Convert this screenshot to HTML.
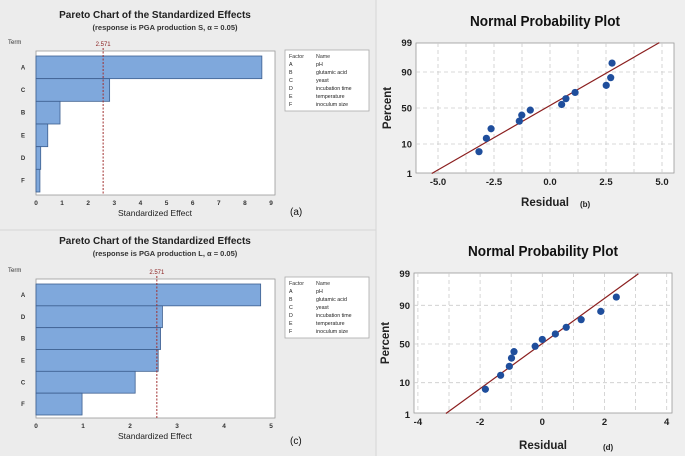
<!DOCTYPE html>
<html><head><meta charset="utf-8">
<style>
html,body{margin:0;padding:0;background:#ececec;}
svg{display:block;font-family:"Liberation Sans",sans-serif;}
</style></head>
<body>
<svg id="fig" width="685" height="456" viewBox="0 0 685 456">
<rect x="0" y="0" width="685" height="456" fill="#ececec"/>
<rect x="376" y="0" width="309" height="456" fill="#efefef"/>
<line x1="376" y1="0" x2="376" y2="456" stroke="#d6d6d6"/>
<line x1="0" y1="230" x2="376" y2="230" stroke="#d6d6d6"/>
<g id="root"></g>
</svg>
<script>
// ---- Pareto (a) data ----
const paretoATerms = ["A","C","B","E","D","F"];
const paretoAValues = [8.65, 2.82, 0.92, 0.45, 0.18, 0.15];
const paretoATicks = [0,1,2,3,4,5,6,7,8,9];
// ---- Pareto (c) data ----
const paretoCTerms = ["A","D","B","E","C","F"];
const paretoCValues = [4.78, 2.69, 2.65, 2.60, 2.11, 0.98];
const paretoCTicks = [0,1,2,3,4,5];
const criticalValue = 2.571;
// ---- Normal probability (b) data ----
const npbResiduals = [-3.17,-2.84,-2.63,-1.37,-1.26,-0.88,0.52,0.71,1.12,2.51,2.71,2.77];
const npbPercents = [6,14,23,32,40,47,55,63,71,79,86,94.5];
const npbLineRes = [-5.28, 4.88];
const npbLinePct = [0.99, 99.0];
const npbXTicks = [-5.0,-2.5,0.0,2.5,5.0];
const npbXTickLabels = ["-5.0","-2.5","0.0","2.5","5.0"];
// ---- Normal probability (d) data ----
const npdResiduals = [-1.83,-1.34,-1.06,-0.99,-0.91,-0.23,0.0,0.42,0.77,1.25,1.88,2.38];
const npdPercents = [6.7,15,23,32,40,47,56,63,71,79,86,94];
const npdLineRes = [-3.10, 3.09];
const npdLinePct = [1.07, 99.0];
const npdXTicks = [-4,-2,0,2,4];
const npdXTickLabels = ["-4","-2","0","2","4"];
const pctTicks = [1,10,50,90,99];
const factorLetters = ["A","B","C","D","E","F"];
const factorNames = ["pH","glutamic acid","yeast","incubation time","temperature","inoculum size"];

const NS="http://www.w3.org/2000/svg";
const root=document.getElementById('root');
function mk(tag,attrs,parent,text){const e=document.createElementNS(NS,tag);for(const k in attrs)e.setAttribute(k,attrs[k]);if(text!==undefined)e.textContent=text;(parent||root).appendChild(e);return e;}

function invNorm(p){
 const a=[-39.69683028665376,220.9460984245205,-275.9285104469687,138.3577518672690,-30.66479806614716,2.506628277459239];
 const b=[-54.47609879822406,161.5858368580409,-155.6989798598866,66.80131188771972,-13.28068155288572];
 const c=[-0.007784894002430293,-0.3223964580411365,-2.400758277161838,-2.549732539343734,4.374664141464968,2.938163982698783];
 const d=[0.007784695709041462,0.3224671290700398,2.445134137142996,3.754408661907416];
 const pl=0.02425;let q,r;
 if(p<pl){q=Math.sqrt(-2*Math.log(p));return (((((c[0]*q+c[1])*q+c[2])*q+c[3])*q+c[4])*q+c[5])/((((d[0]*q+d[1])*q+d[2])*q+d[3])*q+1);}
 if(p>1-pl){q=Math.sqrt(-2*Math.log(1-p));return -(((((c[0]*q+c[1])*q+c[2])*q+c[3])*q+c[4])*q+c[5])/((((d[0]*q+d[1])*q+d[2])*q+d[3])*q+1);}
 q=p-0.5;r=q*q;return (((((a[0]*r+a[1])*r+a[2])*r+a[3])*r+a[4])*r+a[5])*q/(((((b[0]*r+b[1])*r+b[2])*r+b[3])*r+b[4])*r+1);
}

function pareto(cfg){
 const g=mk('g',{});
 
 
 const {x0,x1,y0,y1,max,terms,values,ticks}=cfg;
 const xs=v=>x0+(v/max)*(x1-x0-4);
 const t=mk('text',{x:155,y:cfg.titleY,'text-anchor':'middle','font-size':10,'font-weight':'bold',fill:'#222'},g,'Pareto Chart of the Standardized Effects');
 
 const st=mk('text',{x:165,y:cfg.titleY+12,'text-anchor':'middle','font-size':7.5,'font-weight':'bold',fill:'#333'},g,cfg.subtitle);
 
 const tm=mk('text',{x:8,y:y0-7,'font-size':6,fill:'#333'},g,'Term');
 
 const pa=mk('rect',{x:x0,y:y0,width:x1-x0,height:y1-y0,fill:'#fff',stroke:'#999','stroke-width':0.8},g);
 
 const n=terms.length;const top=y0+5,bot=y1-3;const bh=(bot-top)/n;
 terms.forEach((tt,i)=>{
  const r=mk('rect',{x:x0,y:top+i*bh,width:xs(values[i])-x0,height:bh,fill:'#7fa8dc',stroke:'#3d5f8f','stroke-width':0.8},g);
  
  const l=mk('text',{x:x0-13,y:top+i*bh+bh/2+2,'text-anchor':'middle','font-size':6,'font-weight':'bold',fill:'#333'},g,tt);
  
 });
 ticks.forEach(v=>{
  const l=mk('text',{x:xs(v),y:y1+10,'text-anchor':'middle','font-size':6.5,'font-weight':'bold',fill:'#333'},g,String(v));
  
 });
 const cx=xs(criticalValue);
 const cl=mk('line',{x1:cx,y1:y0-3,x2:cx,y2:y1,stroke:'#a03030','stroke-width':1,'stroke-dasharray':'2,1.5'},g);
 
 const ct=mk('text',{x:cx,y:y0-5,'text-anchor':'middle','font-size':6,fill:'#8a2020'},g,String(criticalValue));
 
 const xt=mk('text',{x:155,y:y1+21,'text-anchor':'middle','font-size':8.5,fill:'#222'},g,'Standardized Effect');
 
 const pl=mk('text',{x:290,y:cfg.labelY,'font-size':10,fill:'#111'},g,cfg.panel);
 
 const lg=mk('g',{},g);
 
 mk('rect',{x:285,y:cfg.legY,width:84,height:61,fill:'#fff',stroke:'#aaa','stroke-width':0.8},lg);
 mk('text',{x:289,y:cfg.legY+8,'font-size':5.3,fill:'#333'},lg,'Factor');
 mk('text',{x:316,y:cfg.legY+8,'font-size':5.3,fill:'#333'},lg,'Name');
 factorLetters.forEach((f,i)=>{
  const e=mk('text',{x:289,y:cfg.legY+16+i*8,'font-size':5.3,fill:'#222'},lg,f);
  
  mk('text',{x:316,y:cfg.legY+16+i*8,'font-size':5.3,fill:'#222'},lg,factorNames[i]);
 });
}

function normplot(cfg){
 const g=mk('g',{});
 
 
 const {x0,x1,y0,y1,xZero,pxPerUnit,yMid,pxPerZ}=cfg;
 const xs=v=>xZero+v*pxPerUnit;
 const ys=p=>yMid-invNorm(p/100)*pxPerZ;
 const t=mk('text',{x:(x0+x1)/2,y:cfg.titleY,'text-anchor':'middle','font-size':15,'font-weight':'bold',fill:'#111',textLength:150,lengthAdjust:'spacingAndGlyphs'},g,'Normal Probability Plot');
 
 const pa=mk('rect',{x:x0,y:y0,width:x1-x0,height:y1-y0,fill:'#fff',stroke:'#999','stroke-width':0.8},g);
 
 for(let v=cfg.gridStart;v<=cfg.gridEnd+1e-9;v+=cfg.gridStep){
  const gx=xs(v);if(gx<=x0+1||gx>=x1-1)continue;
  const gl=mk('line',{x1:gx,y1:y0,x2:gx,y2:y1,stroke:'#ccc','stroke-width':0.8,'stroke-dasharray':'4,3'},g);
  
 }
 pctTicks.forEach(p=>{
  const yy=ys(p);
  if(p!==1&&p!==99){const gl=mk('line',{x1:x0,y1:yy,x2:x1,y2:yy,stroke:'#ccc','stroke-width':0.8,'stroke-dasharray':'4,3'},g);
   }
  const l=mk('text',{x:x0-4,y:yy+3.5,'text-anchor':'end','font-size':9.5,'font-weight':'bold',fill:'#222'},g,String(p));
  
 });
 cfg.xTicks.forEach((v,i)=>{
  const l=mk('text',{x:xs(v),y:y1+12,'text-anchor':'middle','font-size':9.5,'font-weight':'bold',fill:'#222'},g,cfg.xLabels[i]);
  
 });
 const fl=mk('line',{x1:xs(cfg.lineRes[0]),y1:ys(cfg.linePct[0]),x2:xs(cfg.lineRes[1]),y2:ys(cfg.linePct[1]),stroke:'#8b1f1f','stroke-width':1.2},g);
 
 cfg.res.forEach((r,i)=>{
  const c=mk('circle',{cx:xs(r),cy:ys(cfg.pct[i]),r:3.6,fill:'#1f4e9c'},g);
  
 });
 const yt=mk('text',{x:0,y:0,'text-anchor':'middle','font-size':11.5,'font-weight':'bold',fill:'#222',transform:`translate(${x0-25},${(y0+y1)/2}) rotate(-90)`},g,'Percent');
 
 const xt=mk('text',{x:cfg.xTitleX,y:cfg.xTitleY,'text-anchor':'middle','font-size':11.5,'font-weight':'bold',fill:'#222'},g,'Residual');
 
 const pl=mk('text',{x:cfg.panelX,y:cfg.xTitleY+1,'font-size':8,'font-weight':'bold',fill:'#222'},g,cfg.panel);
 
}

pareto({name:'pareto-chart-a',x0:36,x1:275,y0:51,y1:195,max:9,terms:paretoATerms,values:paretoAValues,ticks:paretoATicks,titleY:18,subtitle:'(response is PGA production S, \u03b1 = 0.05)',labelY:215,legY:50,panel:'(a)'});
pareto({name:'pareto-chart-c',x0:36,x1:275,y0:279,y1:418,max:5,terms:paretoCTerms,values:paretoCValues,ticks:paretoCTicks,titleY:244,subtitle:'(response is PGA production L, \u03b1 = 0.05)',labelY:444,legY:277,panel:'(c)'});
normplot({name:'normal-probability-plot-b',x0:416,x1:674,y0:43,y1:173,xZero:550,pxPerUnit:22.4,yMid:108,pxPerZ:28.1,gridStart:-5,gridEnd:5,gridStep:1.25,xTicks:npbXTicks,xLabels:npbXTickLabels,lineRes:npbLineRes,linePct:npbLinePct,res:npbResiduals,pct:npbPercents,titleY:26,xTitleX:545,xTitleY:206,panelX:580,panel:'(b)'});
normplot({name:'normal-probability-plot-d',x0:414,x1:672,y0:273,y1:413,xZero:542.3,pxPerUnit:31.1,yMid:344,pxPerZ:30.2,gridStart:-4,gridEnd:4,gridStep:1,xTicks:npdXTicks,xLabels:npdXTickLabels,lineRes:npdLineRes,linePct:npdLinePct,res:npdResiduals,pct:npdPercents,titleY:256,xTitleX:543,xTitleY:449,panelX:603,panel:'(d)'});
</script>
</body></html>
